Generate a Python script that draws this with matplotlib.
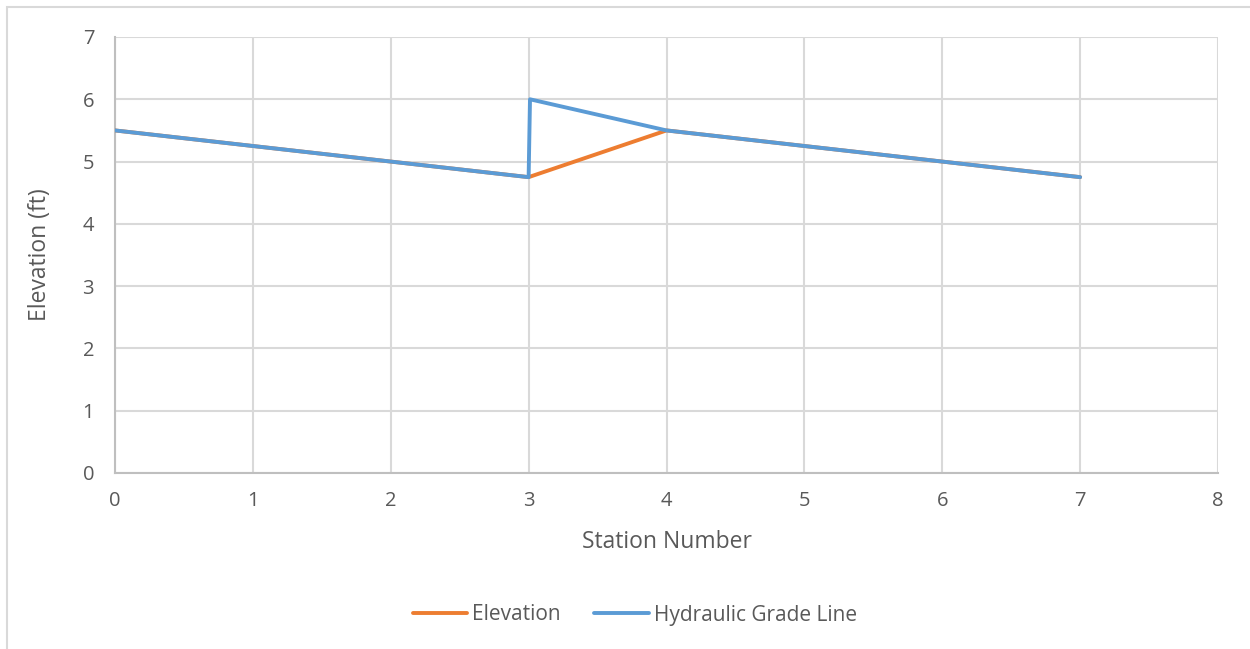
import matplotlib
matplotlib.use("Agg")
import matplotlib.pyplot as plt
from matplotlib.patches import Rectangle

# Station data
elev_x = [0, 1, 2, 3, 4, 5, 6, 7]
elev_y = [5.5, 5.25, 5.0, 4.75, 5.5, 5.25, 5.0, 4.75]
hgl_x = [0, 1, 2, 3, 3.01, 4, 5, 6, 7]
hgl_y = [5.5, 5.25, 5.0, 4.75, 6.0, 5.5, 5.25, 5.0, 4.75]

x_ticks = [0, 1, 2, 3, 4, 5, 6, 7, 8]
y_ticks = [0, 1, 2, 3, 4, 5, 6, 7]

plt.rcParams['font.family'] = ['Open Sans', 'DejaVu Sans']
text_color = '#595959'
grid_color = '#d9d9d9'

fig = plt.figure(figsize=(12.5, 6.49), dpi=100)
fig.patches.append(Rectangle((7 / 1250, -0.01), 1.02, 1 - 7 / 649 + 0.01,
                             transform=fig.transFigure, fill=False,
                             edgecolor=grid_color, linewidth=1.5))

ax = fig.add_axes([115 / 1250, 1 - 473 / 649, (1218 - 115) / 1250, (473 - 37) / 649])

ax.plot(elev_x, elev_y, color='#ED7D31', linewidth=2.8, label='Elevation',
        solid_joinstyle='round', solid_capstyle='round', zorder=3)
ax.plot(hgl_x, hgl_y, color='#5B9BD5', linewidth=2.8, label='Hydraulic Grade Line',
        solid_joinstyle='round', solid_capstyle='round', zorder=4)

ax.set_xlim(0, 8)
ax.set_ylim(0, 7)
ax.set_xticks(x_ticks)
ax.set_yticks(y_ticks)
ax.grid(True, color=grid_color, linewidth=1.5)
ax.set_axisbelow(True)
for s in ['top', 'right']:
    ax.spines[s].set_visible(False)
for s in ['left', 'bottom']:
    ax.spines[s].set_color('#bfbfbf')
    ax.spines[s].set_linewidth(1.5)
ax.tick_params(length=0, labelsize=14.5, colors=text_color, pad=13)
ax.tick_params(axis='y', pad=15)

ax.set_xlabel('Station Number', fontsize=16.5, color=text_color, labelpad=14)
ax.set_ylabel('Elevation (ft)', fontsize=16.5, color=text_color, labelpad=22)

fig.legend(loc='center', bbox_to_anchor=(635 / 1250, 1 - 615 / 649), ncol=2,
           frameon=False, fontsize=15, labelcolor=text_color,
           handlelength=2.6, handletextpad=0.25, columnspacing=1.6)

fig.savefig('out.png', dpi=100, facecolor='white')
